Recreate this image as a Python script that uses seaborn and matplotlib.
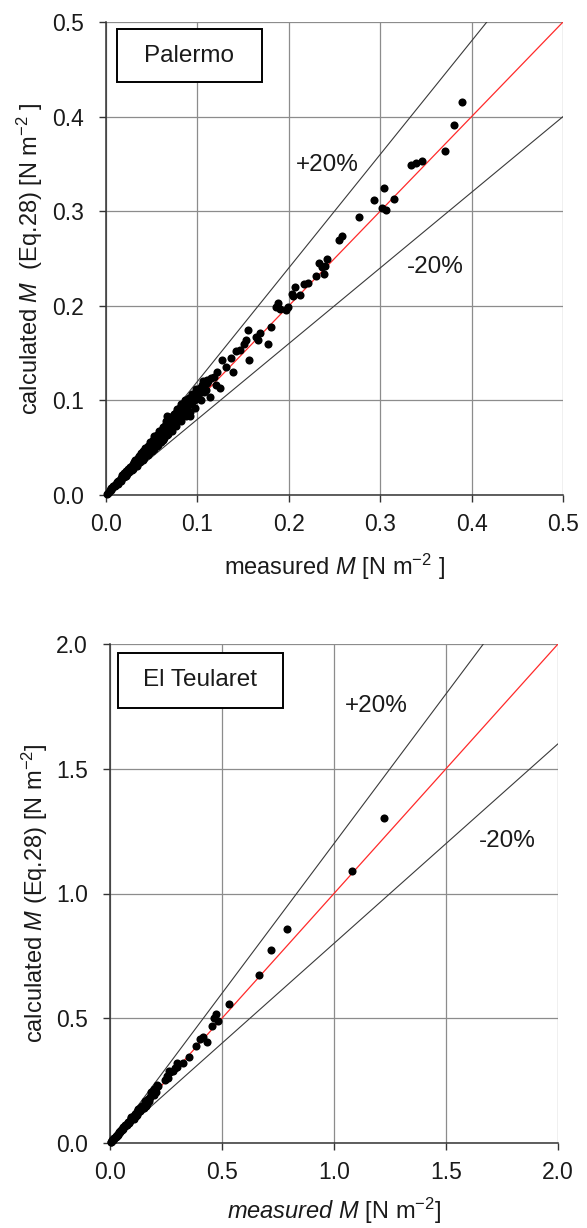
import numpy as np
import pandas as pd
import seaborn as sns
import matplotlib.pyplot as plt
from matplotlib.patches import Rectangle

# Palermo: measured vs calculated M
pal_x = [0.001, 0.002, 0.003, 0.004, 0.005, 0.006, 0.007, 0.008, 0.009, 0.010,
         0.010, 0.011, 0.012, 0.013, 0.013, 0.014, 0.015, 0.016, 0.016, 0.017,
         0.018, 0.019, 0.020, 0.020, 0.021, 0.022, 0.023, 0.024, 0.024, 0.025,
         0.026, 0.027, 0.028, 0.029, 0.030, 0.030, 0.031, 0.032, 0.033, 0.034,
         0.035, 0.035, 0.036, 0.037, 0.038, 0.039, 0.040, 0.040, 0.041, 0.042,
         0.043, 0.044, 0.045, 0.045, 0.046, 0.047, 0.048, 0.049, 0.050, 0.050,
         0.051, 0.052, 0.053, 0.054, 0.055, 0.055, 0.056, 0.057, 0.058, 0.059,
         0.060, 0.060, 0.061, 0.062, 0.063, 0.064, 0.065, 0.065, 0.066, 0.067,
         0.067, 0.068, 0.069, 0.070, 0.070, 0.071, 0.072, 0.073, 0.074, 0.075,
         0.075, 0.076, 0.077, 0.078, 0.079, 0.080, 0.080, 0.081, 0.082, 0.083,
         0.084, 0.085, 0.085, 0.086, 0.087, 0.088, 0.089, 0.090, 0.090, 0.091,
         0.092, 0.093, 0.095, 0.096, 0.097, 0.098, 0.099, 0.100, 0.101, 0.103,
         0.104, 0.105, 0.107, 0.108, 0.109,
         0.012, 0.018, 0.022, 0.026, 0.028, 0.032, 0.034, 0.038, 0.040, 0.043,
         0.046, 0.048, 0.050, 0.053, 0.056, 0.058, 0.060, 0.062, 0.064, 0.066,
         0.068, 0.070, 0.072, 0.074, 0.076, 0.078, 0.080, 0.082, 0.084, 0.086,
         0.088, 0.090, 0.092, 0.094, 0.096, 0.098, 0.102, 0.106, 0.110, 0.115,
         0.120,
         0.092, 0.094, 0.102, 0.106, 0.110, 0.112, 0.114, 0.118, 0.121, 0.125,
         0.127, 0.131, 0.137, 0.139, 0.142, 0.147, 0.151, 0.153, 0.155, 0.156,
         0.164, 0.166, 0.168, 0.177, 0.180, 0.186, 0.188, 0.190, 0.197, 0.199,
         0.203, 0.205, 0.207, 0.212, 0.217, 0.221, 0.230, 0.233, 0.236, 0.238,
         0.240, 0.242, 0.255, 0.258, 0.277, 0.293, 0.302, 0.304, 0.306, 0.315,
         0.334, 0.339, 0.346, 0.371, 0.381, 0.390]
pal_y = [0.001, 0.002, 0.003, 0.005, 0.005, 0.007, 0.007, 0.009, 0.009, 0.011,
         0.010, 0.012, 0.013, 0.012, 0.015, 0.015, 0.016, 0.015, 0.018, 0.019,
         0.018, 0.021, 0.019, 0.023, 0.022, 0.025, 0.022, 0.026, 0.028, 0.024,
         0.029, 0.027, 0.031, 0.028, 0.033, 0.030, 0.035, 0.031, 0.036, 0.033,
         0.039, 0.036, 0.041, 0.035, 0.042, 0.038, 0.044, 0.040, 0.046, 0.039,
         0.048, 0.043, 0.050, 0.045, 0.052, 0.044, 0.053, 0.048, 0.056, 0.051,
         0.058, 0.049, 0.059, 0.054, 0.062, 0.057, 0.063, 0.053, 0.065, 0.060,
         0.067, 0.062, 0.069, 0.058, 0.070, 0.065, 0.073, 0.068, 0.075, 0.084,
         0.063, 0.076, 0.071, 0.079, 0.073, 0.081, 0.068, 0.082, 0.077, 0.085,
         0.079, 0.086, 0.073, 0.088, 0.083, 0.090, 0.085, 0.092, 0.078, 0.094,
         0.088, 0.096, 0.090, 0.097, 0.083, 0.099, 0.092, 0.101, 0.095, 0.103,
         0.088, 0.104, 0.099, 0.106, 0.092, 0.108, 0.102, 0.111, 0.105, 0.113,
         0.100, 0.116, 0.109, 0.119, 0.111,
         0.014, 0.021, 0.020, 0.030, 0.026, 0.037, 0.031, 0.044, 0.037, 0.050,
         0.042, 0.056, 0.046, 0.062, 0.052, 0.068, 0.056, 0.072, 0.060, 0.078,
         0.064, 0.082, 0.074, 0.086, 0.080, 0.091, 0.081, 0.096, 0.084, 0.100,
         0.094, 0.098, 0.096, 0.107, 0.100, 0.112, 0.108, 0.120, 0.122, 0.124,
         0.116,
         0.084, 0.104, 0.110, 0.115, 0.118, 0.121, 0.104, 0.125, 0.130, 0.113,
         0.143, 0.135, 0.145, 0.130, 0.152, 0.153, 0.160, 0.164, 0.174, 0.143,
         0.167, 0.164, 0.171, 0.160, 0.178, 0.199, 0.203, 0.197, 0.196, 0.199,
         0.213, 0.210, 0.220, 0.211, 0.223, 0.224, 0.231, 0.245, 0.241, 0.234,
         0.242, 0.250, 0.270, 0.274, 0.294, 0.312, 0.303, 0.325, 0.301, 0.313,
         0.349, 0.351, 0.353, 0.364, 0.391, 0.415]

# El Teularet
teu_x = [0.003, 0.005, 0.008, 0.010, 0.012, 0.015, 0.020, 0.020, 0.025, 0.030,
         0.030, 0.035, 0.040, 0.040, 0.045, 0.050, 0.055, 0.060, 0.060, 0.065,
         0.070, 0.075, 0.080, 0.080, 0.085, 0.090, 0.095, 0.100, 0.105, 0.110,
         0.115, 0.120, 0.120, 0.125, 0.130, 0.135, 0.140, 0.145, 0.150, 0.155,
         0.160, 0.160, 0.165, 0.170, 0.175, 0.180, 0.185, 0.190, 0.197, 0.200,
         0.015, 0.025, 0.035, 0.045, 0.055, 0.065, 0.075, 0.085, 0.095, 0.105,
         0.115, 0.125, 0.135, 0.145, 0.155, 0.165, 0.175, 0.185, 0.195, 0.210,
         0.260, 0.270, 0.300,
         0.205, 0.205, 0.214, 0.247, 0.256, 0.264, 0.281, 0.289, 0.298, 0.328,
         0.353, 0.385, 0.402, 0.415, 0.432, 0.454, 0.465, 0.474, 0.482, 0.533,
         0.663, 0.717, 0.789, 1.080, 1.224]
teu_y = [0.003, 0.005, 0.008, 0.011, 0.013, 0.014, 0.022, 0.019, 0.025, 0.029,
         0.033, 0.038, 0.040, 0.043, 0.043, 0.053, 0.056, 0.058, 0.064, 0.069,
         0.071, 0.073, 0.085, 0.079, 0.086, 0.088, 0.101, 0.102, 0.098, 0.116,
         0.117, 0.113, 0.125, 0.131, 0.133, 0.128, 0.146, 0.148, 0.142, 0.162,
         0.163, 0.150, 0.158, 0.178, 0.177, 0.186, 0.193, 0.200, 0.192, 0.210,
         0.017, 0.028, 0.033, 0.050, 0.052, 0.072, 0.078, 0.082, 0.105, 0.110,
         0.110, 0.137, 0.140, 0.139, 0.170, 0.171, 0.168, 0.205, 0.215, 0.232,
         0.262, 0.285, 0.305,
         0.220, 0.206, 0.228, 0.253, 0.269, 0.290, 0.290, 0.299, 0.319, 0.322,
         0.343, 0.389, 0.416, 0.426, 0.406, 0.469, 0.500, 0.516, 0.490, 0.557,
         0.673, 0.774, 0.856, 1.091, 1.301]

panels = [
    dict(x=pal_x, y=pal_y, lim=0.5, ticks=[0.0, 0.1, 0.2, 0.3, 0.4, 0.5],
         name='Palermo', rect=[106/587, 1-495/1228, 457/587, 473/1228],
         box=(0.023, 0.873, 0.318, 0.112),
         plus=(0.242, 0.349), minus=(0.360, 0.241),
         xlabel='measured $M$ [N m$^{-2}$ ]',
         ylabel='calculated $M$  (Eq.28) [N m$^{-2}$ ]',
         xl=-0.12, yl=-0.133),
    dict(x=teu_x, y=teu_y, lim=2.0, ticks=[0.0, 0.5, 1.0, 1.5, 2.0],
         name='El Teularet', rect=[110/587, 1-1143/1228, 448/587, 499/1228],
         box=(0.017, 0.872, 0.369, 0.110),
         plus=(1.189, 1.753), minus=(1.772, 1.212),
         xlabel='$\\mathit{measured\\ M}$ [N m$^{-2}$]',
         ylabel='calculated $M$ (Eq.28) [N m$^{-2}$]',
         xl=-0.105, yl=-0.135),
]

sns.set_theme(style='white')
plt.rcParams['font.family'] = ['Liberation Sans', 'DejaVu Sans']
plt.rcParams['mathtext.fontset'] = 'custom'
plt.rcParams['mathtext.rm'] = 'Liberation Sans'
plt.rcParams['mathtext.it'] = 'Liberation Sans:italic'

fig = plt.figure(figsize=(5.87, 12.28), dpi=100)

for p in panels:
    ax = fig.add_axes(p['rect'])
    ax.set_axisbelow(True)
    ax.grid(True, color='#8c8c8c', lw=0.9)

    lim = p['lim']
    ax.axline((0, 0), slope=1.2, color='#3a3a3a', lw=0.8)
    ax.axline((0, 0), slope=0.8, color='#3a3a3a', lw=0.8)
    sns.lineplot(x=[0, lim], y=[0, lim], color='#ff2a2a', lw=0.9, ax=ax)

    df = pd.DataFrame({'measured': p['x'], 'calculated': p['y']})
    sns.scatterplot(data=df, x='measured', y='calculated', color='black',
                    s=34, linewidth=0, ax=ax, zorder=3, clip_on=False)

    ax.set_xlim(0, lim)
    ax.set_ylim(0, lim)
    ax.set_xticks(p['ticks'])
    ax.set_yticks(p['ticks'])
    ax.set_xticklabels([f'{t:.1f}' for t in p['ticks']])
    ax.set_yticklabels([f'{t:.1f}' for t in p['ticks']])
    ax.tick_params(direction='out', length=5, width=1, color='#333333',
                   labelsize=16.5, labelcolor='#1a1a1a', bottom=True, left=True)
    ax.tick_params(axis='y', pad=11)
    ax.tick_params(axis='x', pad=8)
    for s in ['top', 'right']:
        ax.spines[s].set_visible(False)
    for s in ['left', 'bottom']:
        ax.spines[s].set_color('#333333')
        ax.spines[s].set_linewidth(1.1)

    ax.set_xlabel(p['xlabel'], fontsize=17, color='#1a1a1a')
    ax.set_ylabel(p['ylabel'], fontsize=17, color='#1a1a1a')
    ax.xaxis.set_label_coords(0.5, p['xl'])
    ax.yaxis.set_label_coords(p['yl'], 0.5)

    bx, by, bw, bh = p['box']
    ax.add_patch(Rectangle((bx, by), bw, bh, transform=ax.transAxes,
                           facecolor='white', edgecolor='black', lw=1.4, zorder=4))
    ax.text(bx + bw / 2, by + bh / 2, p['name'], transform=ax.transAxes,
            ha='center', va='center', fontsize=17.5, color='#1a1a1a', zorder=5)

    ax.text(*p['plus'], '+20%', ha='center', va='center', fontsize=17.5, color='#1a1a1a')
    ax.text(*p['minus'], '-20%', ha='center', va='center', fontsize=17.5, color='#1a1a1a')

fig.savefig('out.png', dpi=100)
